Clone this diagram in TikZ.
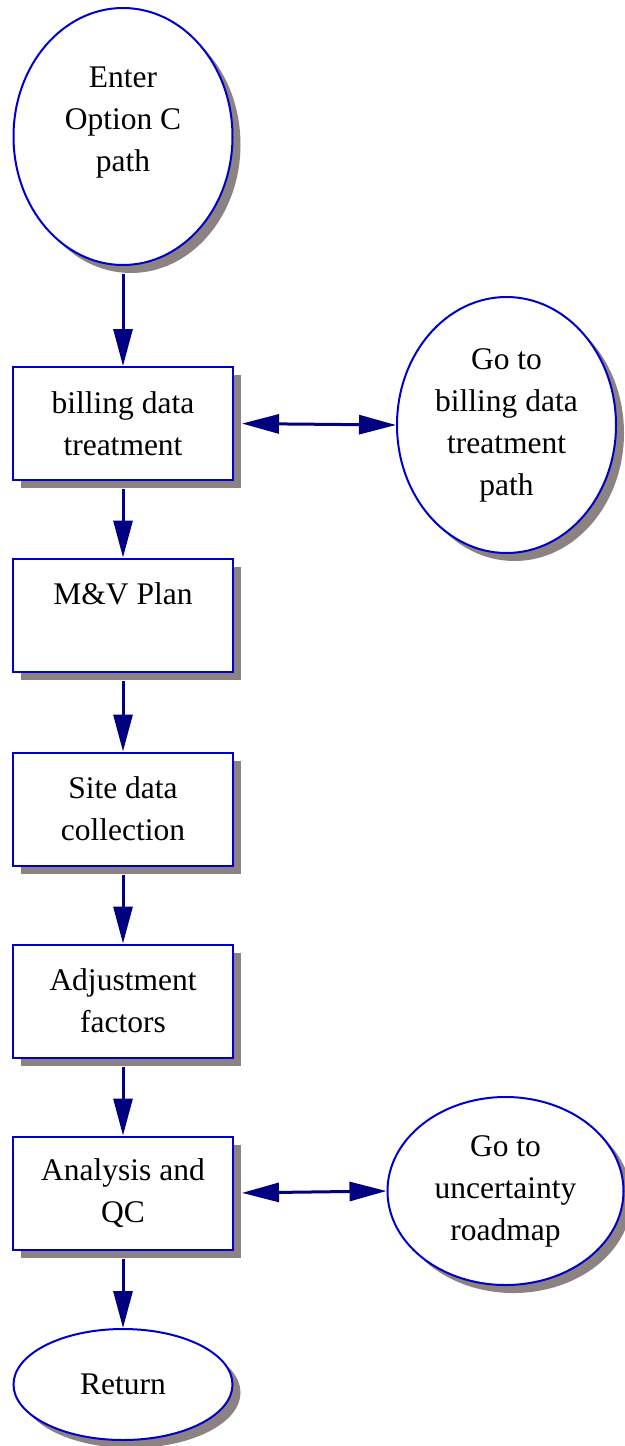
\documentclass[tikz,border=0pt]{standalone}
\usepackage{fontspec}
\setmainfont{Liberation Serif}
\usetikzlibrary{positioning, arrows.meta, shapes.geometric, shadows}

\definecolor{lineblue}{RGB}{0,0,204}
\definecolor{arrownavy}{RGB}{0,0,128}
\definecolor{shadowgray}{RGB}{140,130,130}

\tikzset{
    stepbox/.style={rectangle, draw=lineblue, line width=2pt, fill=white, minimum width=220pt, minimum height=113pt,
        inner sep=0pt, align=center, drop shadow={shadow xshift=8pt, shadow yshift=-8pt, fill=shadowgray, opacity=1}},
    terminal/.style={ellipse, draw=lineblue, line width=2pt, fill=white, inner sep=0pt, align=center,
        drop shadow={shadow xshift=8pt, shadow yshift=-8pt, fill=shadowgray, opacity=1}},
    flow/.style={draw=arrownavy, line width=3pt, -{Triangle[length=37pt, width=19pt]}, shorten <=8pt},
    twoway/.style={flow, {Triangle[length=37pt, width=19pt]}-{Triangle[length=37pt, width=19pt]}}
}

\begin{document}
\begin{tikzpicture}[x=1pt, y=-1pt, font=\fontsize{31.5pt}{42pt}\selectfont]

        \useasboundingbox (0,0) rectangle (624,1446);

        %START (TEXT SITS A BIT HIGH IN THIS ONE)
        \node[terminal, minimum width=219pt, minimum height=257pt,
            label={[align=center, yshift=14pt]center:Enter\\Option C\\path}] (enter) at (123,136.5) {};

        % MAIN STEPS
        \node[stepbox] (billing)  at (123,423.5) {billing data\\treatment};
        \node[stepbox] (mvplan)   at (123,615)   {M\&V Plan\\~};
        \node[stepbox] (site)     at (123,809)   {Site data\\collection};
        \node[stepbox] (adjust)   at (123,1001)  {Adjustment\\factors};
        \node[stepbox] (analysis) at (123,1193)  {Analysis and\\QC};

        %END
        \node[terminal, minimum width=219pt, minimum height=111pt] (return) at (123,1384.5) {Return};

        % SIDE PATHS
        \node[terminal, minimum width=219pt, minimum height=256pt] (gobilling) at (506.5,425) {Go to\\billing data\\treatment\\path};
        \node[terminal, minimum width=236pt, minimum height=188pt] (gouncert)  at (505.5,1191) {Go to\\uncertainty\\roadmap};

        \draw[flow] (enter) -- (billing);
        \draw[flow] (billing) -- (mvplan);
        \draw[flow] (mvplan) -- (site);
        \draw[flow] (site) -- (adjust);
        \draw[flow] (adjust) -- (analysis);
        \draw[flow] (analysis) -- (return);

        \draw[twoway] (billing.east) -- (gobilling.west);
        \draw[twoway] (analysis.east) -- (gouncert.west);

    \end{tikzpicture}
\end{document}
